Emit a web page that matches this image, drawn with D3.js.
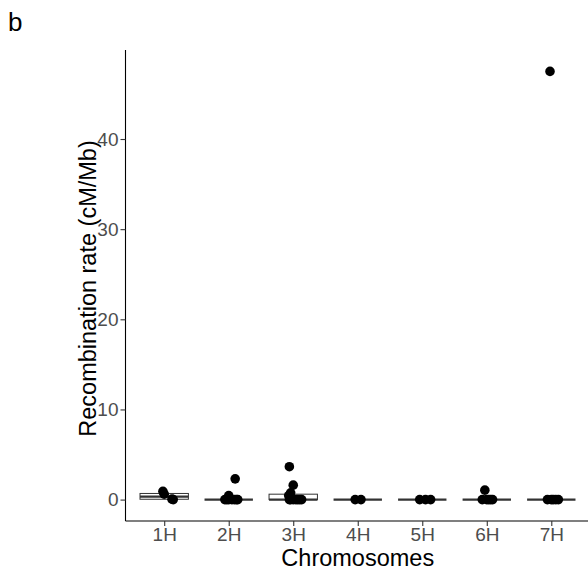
<!DOCTYPE html>
<html>
<head>
<meta charset="utf-8">
<script src="https://cdn.jsdelivr.net/npm/d3@7"></script>
<style>
  html, body { margin: 0; padding: 0; background: #fff; }
  svg { display: block; font-family: "Liberation Sans", Arial, sans-serif; }
</style>
</head>
<body>
<svg id="chart" width="588" height="573"></svg>
<script>
// ---- data ----
const categories = ["1H", "2H", "3H", "4H", "5H", "6H", "7H"];
const rates1H = [0.92, 0.6, 0.05, 0];
const rates2H = [2.3, 0.45, 0, 0, 0, 0, 0, 0, 0];
const rates3H = [3.65, 1.6, 0.75, 0.45, 0, 0, 0, 0, 0, 0, 0];
const rates4H = [0, 0];
const rates5H = [0, 0, 0];
const rates6H = [1.05, 0, 0, 0, 0, 0];
const rates7H = [47.5, 0, 0, 0, 0, 0];
// horizontal jitter of each point, in category units
const jitter1H = [-0.02, 0, 0.12, 0.14];
const jitter2H = [0.1, 0, -0.06, 0.05, 0.14, 0, 0.09, -0.03, 0.12];
const jitter3H = [-0.06, 0, -0.04, -0.07, -0.06, 0, 0.07, 0.13, -0.04, 0.04, 0.1];
const jitter4H = [-0.04, 0.05];
const jitter5H = [-0.04, 0.05, 0.13];
const jitter6H = [-0.03, -0.07, 0.03, 0.09, 0, 0.06];
const jitter7H = [-0.02, -0.06, 0.03, 0.11, 0, 0.07];
const yTicks = [0, 10, 20, 30, 40];
const panelLabel = "b";
const xTitle = "Chromosomes";
const yTitle = "Recombination rate (cM/Mb)";

const values = [rates1H, rates2H, rates3H, rates4H, rates5H, rates6H, rates7H];
const jitters = [jitter1H, jitter2H, jitter3H, jitter4H, jitter5H, jitter6H, jitter7H];

// ---- layout ----
const svg = d3.select("#chart");
const panel = { left: 125.5, right: 590, top: 50, bottom: 521 };

const allVals = values.flat();
const vMin = d3.min(allVals), vMax = d3.max(allVals);
const pad = (vMax - vMin) * 0.05;
const y = d3.scaleLinear().domain([vMin - pad, vMax + pad]).range([panel.bottom, panel.top]);

const step = (panel.right - panel.left) / (categories.length - 1 + 1.2);
const x = d3.scalePoint().domain(categories)
  .range([panel.left + 0.6 * step, panel.right - 0.6 * step]);
const boxW = 0.75 * step;

// ---- boxplots ----
const boxes = svg.append("g");
categories.forEach((c, i) => {
  const s = values[i].slice().sort(d3.ascending);
  const q1 = d3.quantile(s, 0.25), med = d3.quantile(s, 0.5), q3 = d3.quantile(s, 0.75);
  const iqr = q3 - q1;
  const hiW = d3.max(s.filter(v => v <= q3 + 1.5 * iqr));
  const loW = d3.min(s.filter(v => v >= q1 - 1.5 * iqr));
  const cx = x(c);
  const g = boxes.append("g");
  g.append("line").attr("x1", cx).attr("x2", cx).attr("y1", y(q3)).attr("y2", y(hiW))
    .attr("stroke", "#333").attr("stroke-width", 1);
  g.append("line").attr("x1", cx).attr("x2", cx).attr("y1", y(q1)).attr("y2", y(loW))
    .attr("stroke", "#333").attr("stroke-width", 1);
  g.append("rect").attr("x", cx - boxW / 2).attr("width", boxW)
    .attr("y", y(q3)).attr("height", Math.max(0, y(q1) - y(q3)))
    .attr("fill", "#fff").attr("stroke", "#333").attr("stroke-width", 1);
  g.append("line").attr("x1", cx - boxW / 2).attr("x2", cx + boxW / 2)
    .attr("y1", y(med)).attr("y2", y(med))
    .attr("stroke", "#333").attr("stroke-width", 2.2);
});

// ---- points ----
const pts = [];
categories.forEach((c, i) => values[i].forEach((v, j) => pts.push({ c, v, j: jitters[i][j] || 0 })));
svg.append("g").selectAll("circle").data(pts).join("circle")
  .attr("cx", d => x(d.c) + d.j * step)
  .attr("cy", d => y(d.v))
  .attr("r", 4.8)
  .attr("fill", "#000");

// ---- axes ----
const yAxis = svg.append("g").attr("transform", `translate(${panel.left},0)`)
  .call(d3.axisLeft(y).tickValues(yTicks).tickSize(5).tickPadding(2).tickFormat(d3.format("d")));
yAxis.select(".domain").attr("d", `M0,${panel.top}V${panel.bottom}`).attr("stroke", "#000").attr("stroke-width", 1.1);
yAxis.selectAll(".tick line").attr("stroke", "#333").attr("stroke-width", 1.1);
yAxis.selectAll(".tick text").attr("fill", "#4d4d4d").style("font-size", "19px")
  .style("font-family", "'Liberation Sans', Arial, sans-serif");

const xAxis = svg.append("g").attr("transform", `translate(0,${panel.bottom})`)
  .call(d3.axisBottom(x).tickSize(5).tickPadding(2));
xAxis.select(".domain").attr("d", `M${panel.left},0H${panel.right}`).attr("stroke", "#000").attr("stroke-width", 1.1);
xAxis.selectAll(".tick line").attr("stroke", "#333").attr("stroke-width", 1.1);
xAxis.selectAll(".tick text").attr("fill", "#4d4d4d").style("font-size", "19px")
  .style("font-family", "'Liberation Sans', Arial, sans-serif");

// ---- titles ----
svg.append("text").attr("x", (panel.left + panel.right) / 2).attr("y", 566)
  .attr("text-anchor", "middle").attr("fill", "#000").style("font-size", "23.5px")
  .text(xTitle);
svg.append("text")
  .attr("transform", `translate(96,${(panel.top + panel.bottom) / 2 + 3}) rotate(-90)`)
  .attr("text-anchor", "middle").attr("fill", "#000").style("font-size", "23.5px")
  .text(yTitle);
svg.append("text").attr("x", 8).attr("y", 31).attr("fill", "#000")
  .style("font-size", "26px").text(panelLabel);
</script>
</body>
</html>
